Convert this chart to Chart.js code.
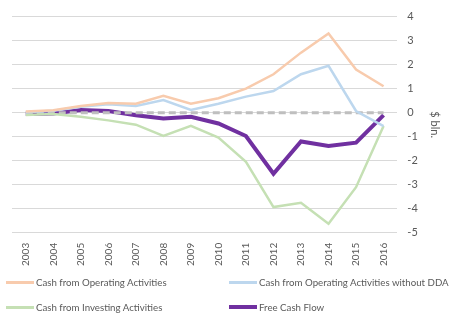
<!DOCTYPE html>
<html>
<head>
<meta charset="utf-8">
<script src="https://cdn.jsdelivr.net/npm/chart.js@4"></script>
<style>
  html, body { margin: 0; padding: 0; background: #fff; }
  body { position: relative; width: 449px; height: 322px; overflow: hidden; font-family: Lato, "Open Sans", sans-serif; }
  #wrap { position: absolute; left: 0; top: 0; width: 449px; height: 273px; }
  #legend { position: absolute; left: 0; top: 269px; width: 449px; height: 53px; font-size: 9.7px; color: #595959; }
  .item { position: absolute; display: flex; align-items: center; white-space: nowrap; }
  .swatch { display: inline-block; width: 28px; margin-right: 2px; }
</style>
</head>
<body>
<div id="wrap"><canvas id="chart"></canvas></div>
<div id="legend"></div>
<script>
// Données ($ bln.)
const years = ['2003', '2004', '2005', '2006', '2007', '2008', '2009', '2010', '2011', '2012', '2013', '2014', '2015', '2016'];
const cashOperating = [0.05, 0.1, 0.28, 0.4, 0.37, 0.7, 0.37, 0.6, 1.0, 1.6, 2.5, 3.3, 1.8, 1.1];
const cashOperatingNoDDA = [0.02, 0.08, 0.25, 0.35, 0.28, 0.53, 0.11, 0.37, 0.67, 0.9, 1.6, 1.95, 0.07, -0.56];
const cashInvesting = [-0.1, -0.05, -0.17, -0.32, -0.5, -0.97, -0.55, -1.04, -2.05, -3.93, -3.75, -4.62, -3.1, -0.55];
const freeCashFlow = [-0.05, -0.03, 0.11, 0.07, -0.11, -0.24, -0.17, -0.45, -0.97, -2.54, -1.2, -1.39, -1.25, -0.1];
const zeroLine = [0, 0, 0, 0, 0, 0, 0, 0, 0, 0, 0, 0, 0, 0];
const yTicks = [4, 3, 2, 1, 0, -1, -2, -3, -4, -5];

const series = [
    { label: 'Cash from Operating Activities', data: cashOperating, color: '#f8cbad', width: 2.5 },
    { label: 'Cash from Operating Activities without DDA', data: cashOperatingNoDDA, color: '#bdd7ee', width: 2.5 },
    { label: 'Cash from Investing Activities', data: cashInvesting, color: '#c5e0b4', width: 2.5 },
    { label: 'Free Cash Flow', data: freeCashFlow, color: '#7030a0', width: 4 }
];

const datasets = series.map(s => ({
    label: s.label,
    data: s.data,
    borderColor: s.color,
    backgroundColor: s.color,
    borderWidth: s.width,
    pointRadius: 0,
    tension: 0,
    fill: false
}));

// Ligne du zéro en pointillés (dessinée sous la courbe Free Cash Flow)
datasets.splice(3, 0, {
    label: 'zero',
    data: zeroLine,
    borderColor: '#bfbfbf',
    borderWidth: 3,
    borderDash: [7, 4],
    pointRadius: 0,
    fill: false
});

new Chart(document.getElementById('chart').getContext('2d'), {
    type: 'line',
    data: { labels: years, datasets: datasets },
    options: {
        responsive: true,
        maintainAspectRatio: false,
        animation: false,
        layout: { padding: { left: 12, right: 6, top: 6, bottom: 5 } },
        plugins: { legend: { display: false }, tooltip: { enabled: false } },
        scales: {
            x: {
                offset: true,
                grid: { display: false },
                border: { display: false },
                ticks: { color: '#595959', font: { family: 'Lato', size: 10 }, minRotation: 90, maxRotation: 90, padding: 2 }
            },
            y: {
                position: 'right',
                min: -5,
                max: 4,
                afterBuildTicks: axis => { axis.ticks = yTicks.map(v => ({ value: v })); },
                grid: { color: '#d9d9d9', lineWidth: 1, drawTicks: false },
                border: { display: false },
                ticks: { color: '#595959', font: { family: 'Lato', size: 11 }, padding: 10, crossAlign: 'near' },
                title: { display: true, text: '$ bln.', color: '#595959', font: { family: 'Lato', size: 11 }, padding: { top: 2, bottom: 0 } }
            }
        }
    }
});

// Légende sur deux colonnes
const legend = document.getElementById('legend');
const positions = [[6, 7], [229, 7], [6, 32], [229, 32]];
series.forEach((s, i) => {
    const item = document.createElement('div');
    item.className = 'item';
    item.style.left = positions[i][0] + 'px';
    item.style.top = positions[i][1] + 'px';
    const sw = document.createElement('span');
    sw.className = 'swatch';
    sw.style.borderTop = (s.width >= 4 ? 4 : 3) + 'px solid ' + s.color;
    item.appendChild(sw);
    item.appendChild(document.createTextNode(s.label));
    legend.appendChild(item);
});
</script>
</body>
</html>
